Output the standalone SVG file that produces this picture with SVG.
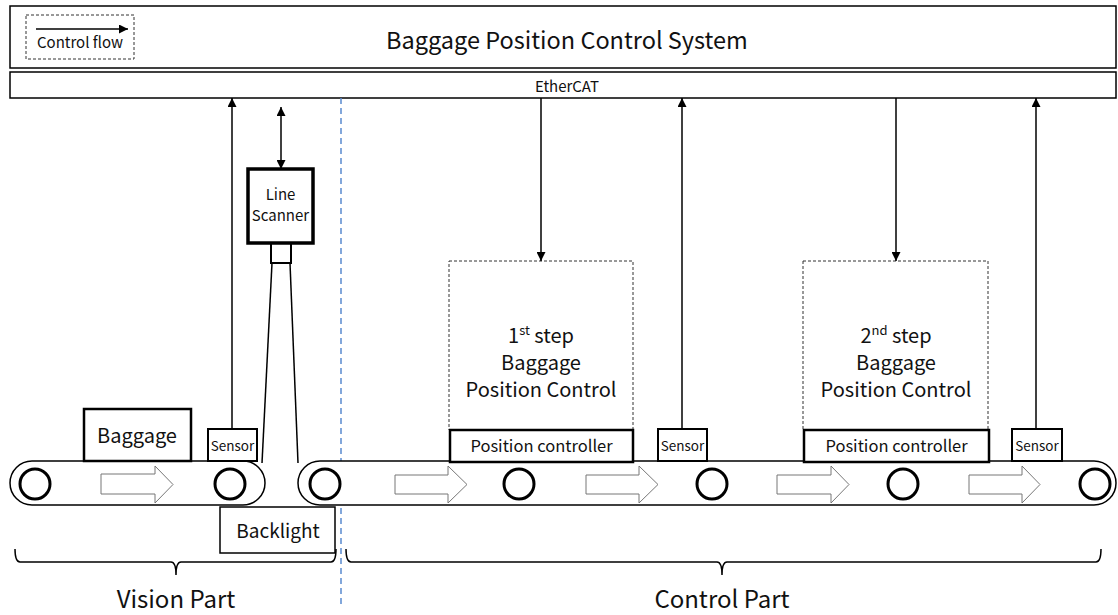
<svg xmlns="http://www.w3.org/2000/svg" width="1118" height="615" viewBox="0 0 1118 615">
<defs>
<marker id="ah" viewBox="0 0 10 10" refX="10" refY="5" markerWidth="9" markerHeight="9" markerUnits="userSpaceOnUse" orient="auto-start-reverse">
<path d="M0,0 L10,5 L0,10 Z" fill="#000"/>
</marker>
<style>
text{font-family:"Noto Sans CJK KR","Noto Sans",sans-serif;fill:#111;}
.box{fill:#fff;stroke:#000;stroke-width:1.5;}
.sensor{fill:#fff;stroke:#000;stroke-width:2;}
.thick{fill:#fff;stroke:#000;stroke-width:2.5;}
.scanner{fill:#fff;stroke:#000;stroke-width:3.5;}
.dash{fill:none;stroke:#333;stroke-width:1;stroke-dasharray:3,2;}
.line{stroke:#000;stroke-width:1.5;fill:none;}
.roller{fill:#fff;stroke:#000;stroke-width:3;}
.flow{fill:#fff;stroke:#777;stroke-width:1;}
.c{text-anchor:middle;}
</style>
</defs>
<g id="system">
<rect x="10" y="6" width="1106" height="62" class="box"/>
<text x="567" y="49" font-size="23.5" class="c">Baggage Position Control System</text>
</g>
<g id="legend">
<rect x="26" y="15" width="108" height="44" class="dash"/>
<line x1="36" y1="29" x2="128" y2="29" class="line" marker-end="url(#ah)"/>
<text x="80" y="48" font-size="15" class="c">Control flow</text>
</g>
<g id="ethercat">
<rect x="10" y="72" width="1106" height="26" class="box"/>
<text x="567" y="92" font-size="15" class="c">EtherCAT</text>
</g>
<g id="divider">
<line x1="341" y1="98" x2="341" y2="606" stroke="#5a8ad0" stroke-width="1.5" stroke-dasharray="6,4"/>
</g>
<g id="conveyor-left">
<rect x="10" y="461" width="255" height="44" rx="22" ry="22" class="box"/>
<circle cx="35" cy="484" r="15" class="roller"/>
<circle cx="230" cy="484" r="15" class="roller"/>
<path d="M101,474 H155 V466 L173,484.5 L155,503 V494 H101 Z" class="flow"/>
</g>
<g id="conveyor-right">
<rect x="298" y="461" width="818" height="44" rx="22" ry="22" class="box"/>
<circle cx="325" cy="484" r="15" class="roller"/>
<circle cx="519" cy="484" r="15" class="roller"/>
<circle cx="712" cy="484" r="15" class="roller"/>
<circle cx="903" cy="484" r="15" class="roller"/>
<circle cx="1095" cy="484" r="15" class="roller"/>
<path d="M395,475 H448 V466 L467,484.5 L448,503 V494 H395 Z" class="flow"/>
<path d="M586,475 H639 V466 L658,484.5 L639,503 V494 H586 Z" class="flow"/>
<path d="M777,475 H831 V466 L849,484.5 L831,503 V494 H777 Z" class="flow"/>
<path d="M969,475 H1022 V466 L1040,484.5 L1022,503 V494 H969 Z" class="flow"/>
</g>
<g id="baggage">
<rect x="84" y="409" width="107" height="52" class="thick"/>
<text x="137" y="443" font-size="20" class="c">Baggage</text>
</g>
<g id="sensor-1">
<rect x="208" y="429" width="49" height="32" class="sensor"/>
<text x="232.5" y="451" font-size="13.5" class="c">Sensor</text>
</g>
<g id="backlight">
<rect x="220" y="507" width="115" height="46" class="box"/>
<text x="278" y="538" font-size="19" class="c">Backlight</text>
</g>
<g id="line-scanner">
<line x1="272" y1="263" x2="262" y2="463" class="line"/>
<line x1="290" y1="263" x2="298" y2="463" class="line"/>
<rect x="271" y="243" width="20" height="20" class="sensor"/>
<rect x="248" y="169" width="65" height="74" class="scanner"/>
<text x="280.5" y="200" font-size="15" class="c">Line</text>
<text x="280.5" y="221" font-size="15" class="c">Scanner</text>
</g>
<g id="step-1">
<rect x="449" y="261" width="184" height="169" class="dash"/>
<text x="541" y="343" font-size="20" class="c">1<tspan font-size="13" dy="-8">st</tspan><tspan dy="8"> step</tspan></text>
<text x="541" y="370" font-size="20" class="c">Baggage</text>
<text x="541" y="397" font-size="20" class="c">Position Control</text>
</g>
<g id="position-controller-1">
<rect x="450" y="430" width="183" height="32" class="thick"/>
<text x="541.5" y="452" font-size="16.5" class="c">Position controller</text>
</g>
<g id="sensor-2">
<rect x="658" y="429" width="49" height="32" class="sensor"/>
<text x="682.5" y="451" font-size="13.5" class="c">Sensor</text>
</g>
<g id="step-2">
<rect x="803" y="261" width="185" height="169" class="dash"/>
<text x="896" y="343" font-size="20" class="c">2<tspan font-size="13" dy="-8">nd</tspan><tspan dy="8"> step</tspan></text>
<text x="896" y="370" font-size="20" class="c">Baggage</text>
<text x="896" y="397" font-size="20" class="c">Position Control</text>
</g>
<g id="position-controller-2">
<rect x="804" y="430" width="185" height="32" class="thick"/>
<text x="896.5" y="452" font-size="16.5" class="c">Position controller</text>
</g>
<g id="sensor-3">
<rect x="1012" y="429" width="50" height="32" class="sensor"/>
<text x="1037" y="451" font-size="13.5" class="c">Sensor</text>
</g>
<g id="connectors">
<line x1="232" y1="429" x2="232" y2="98" class="line" marker-end="url(#ah)"/>
<line x1="281" y1="107" x2="281" y2="169" class="line" marker-start="url(#ah)" marker-end="url(#ah)"/>
<line x1="541" y1="98" x2="541" y2="261" class="line" marker-end="url(#ah)"/>
<line x1="682" y1="429" x2="682" y2="98" class="line" marker-end="url(#ah)"/>
<line x1="896" y1="98" x2="896" y2="261" class="line" marker-end="url(#ah)"/>
<line x1="1036" y1="429" x2="1036" y2="98" class="line" marker-end="url(#ah)"/>
</g>
<g id="vision-part">
<path d="M15,549 Q15,562 20,562 H171 Q176,562 176,575 Q176,562 181,562 H331 Q336,562 336,549" class="line"/>
<text x="176" y="608" font-size="24" class="c">Vision Part</text>
</g>
<g id="control-part">
<path d="M346,549 Q346,562 351,562 H717 Q722,562 722,575 Q722,562 727,562 H1096 Q1101,562 1101,549" class="line"/>
<text x="722" y="608" font-size="24" class="c">Control Part</text>
</g>
</svg>
